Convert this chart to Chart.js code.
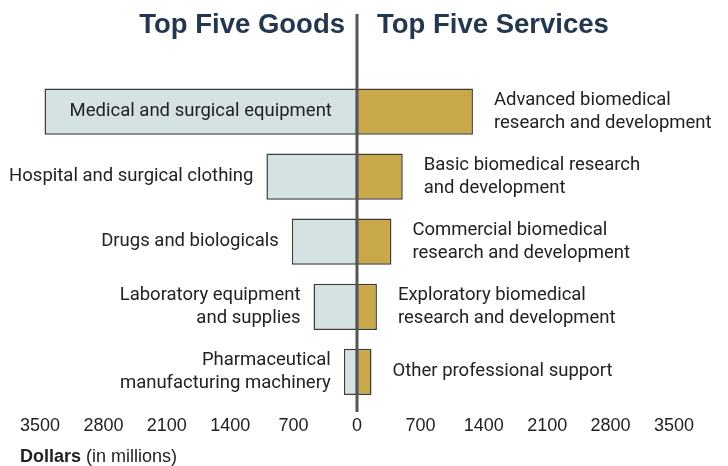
<!DOCTYPE html>
<html>
<head>
<meta charset="utf-8">
<script src="https://cdn.jsdelivr.net/npm/chart.js@4.4.1/dist/chart.umd.min.js"></script>
<style>
  body { margin: 0; background: #fff; }
  #wrap { width: 728px; height: 466px; }
</style>
</head>
<body>
<div id="wrap"><canvas id="tradeChart"></canvas></div>
<script>
// data (dollars, in millions)
const goodsLabels = [
  'Medical and surgical equipment',
  'Hospital and surgical clothing',
  'Drugs and biologicals',
  ['Laboratory equipment', 'and supplies'],
  ['Pharmaceutical', 'manufacturing machinery']
];
const goodsValues = [3450, 1000, 720, 480, 145];

const servicesLabels = [
  ['Advanced biomedical', 'research and development'],
  ['Basic biomedical research', 'and development'],
  ['Commercial biomedical', 'research and development'],
  ['Exploratory biomedical', 'research and development'],
  'Other professional support'
];
const servicesValues = [1280, 505, 380, 220, 160];

const tickValues = [-3500, -2800, -2100, -1400, -700, 0, 700, 1400, 2100, 2800, 3500];

const TEXT = '#222';
const TITLE = '#24374f';
const LABEL_FONT = '18.5px Roboto';

// labels beside the bars, centre line, headings and axis caption
const sideLabels = {
  id: 'sideLabels',
  afterDatasetsDraw(chart) {
    const { ctx, scales: { x } } = chart;
    const zero = x.getPixelForValue(0);
    const lineH = 23;
    ctx.save();
    ctx.font = LABEL_FONT;
    ctx.fillStyle = TEXT;
    ctx.textBaseline = 'middle';

    chart.getDatasetMeta(0).data.forEach((bar, i) => {
      const lines = [].concat(goodsLabels[i]);
      const w = Math.max(...lines.map(l => ctx.measureText(l).width));
      const barW = Math.abs(bar.base - bar.x);
      const top = bar.y - (lines.length - 1) * lineH / 2;
      let tx;
      if (w + 40 < barW) {
        ctx.textAlign = 'center';
        tx = (bar.x + bar.base) / 2;
      } else {
        ctx.textAlign = 'right';
        tx = bar.x - 13;
      }
      lines.forEach((l, k) => ctx.fillText(l, tx, top + k * lineH));
    });

    chart.getDatasetMeta(1).data.forEach((bar, i) => {
      const lines = [].concat(servicesLabels[i]);
      const top = bar.y - (lines.length - 1) * lineH / 2;
      ctx.textAlign = 'left';
      lines.forEach((l, k) => ctx.fillText(l, bar.x + 21, top + k * lineH));
    });

    // centre divider
    ctx.strokeStyle = '#555';
    ctx.lineWidth = 3;
    ctx.beginPath();
    ctx.moveTo(zero, 14);
    ctx.lineTo(zero, 412);
    ctx.stroke();

    // headings
    ctx.font = 'bold 27.5px "Liberation Sans"';
    ctx.fillStyle = TITLE;
    ctx.textBaseline = 'alphabetic';
    ctx.textAlign = 'right';
    ctx.fillText('Top Five Goods', zero - 12, 33);
    ctx.textAlign = 'left';
    ctx.fillText('Top Five Services', zero + 20, 33);

    // axis caption
    ctx.fillStyle = TEXT;
    ctx.font = 'bold 18px "Liberation Sans"';
    ctx.fillText('Dollars', 20, 462);
    const dw = ctx.measureText('Dollars ').width;
    ctx.font = '18px "Liberation Sans"';
    ctx.fillText('(in millions)', 20 + dw, 462);
    ctx.restore();
  }
};

new Chart(document.getElementById('tradeChart'), {
  type: 'bar',
  data: {
    labels: goodsLabels.map((_, i) => i),
    datasets: [{
      label: 'Goods',
      data: goodsValues.map(v => -v),
      backgroundColor: '#d4e2e1',
      borderColor: '#3c3c3c',
      borderWidth: 1.5,
      borderSkipped: false
    }, {
      label: 'Services',
      data: servicesValues,
      backgroundColor: '#c9a84a',
      borderColor: '#3c3c3c',
      borderWidth: 1.5,
      borderSkipped: false
    }]
  },
  options: {
    indexAxis: 'y',
    responsive: true,
    maintainAspectRatio: false,
    animation: false,
    barPercentage: 1,
    categoryPercentage: 0.71,
    layout: { padding: { left: 40, right: 54, top: 79, bottom: 19 } },
    plugins: {
      legend: { display: false },
      tooltip: { enabled: false }
    },
    scales: {
      x: {
        stacked: true,
        min: tickValues[0],
        max: tickValues[tickValues.length - 1],
        afterBuildTicks(axis) {
          axis.ticks = tickValues.map(v => ({ value: v }));
        },
        grid: { display: false, drawTicks: false },
        border: { display: false },
        ticks: {
          padding: 10.5,
          color: TEXT,
          font: { family: 'Liberation Sans', size: 18 },
          maxRotation: 0,
          autoSkip: false,
          callback: v => String(Math.abs(v))
        }
      },
      y: {
        stacked: true,
        display: false
      }
    }
  },
  plugins: [sideLabels]
});
</script>
</body>
</html>
